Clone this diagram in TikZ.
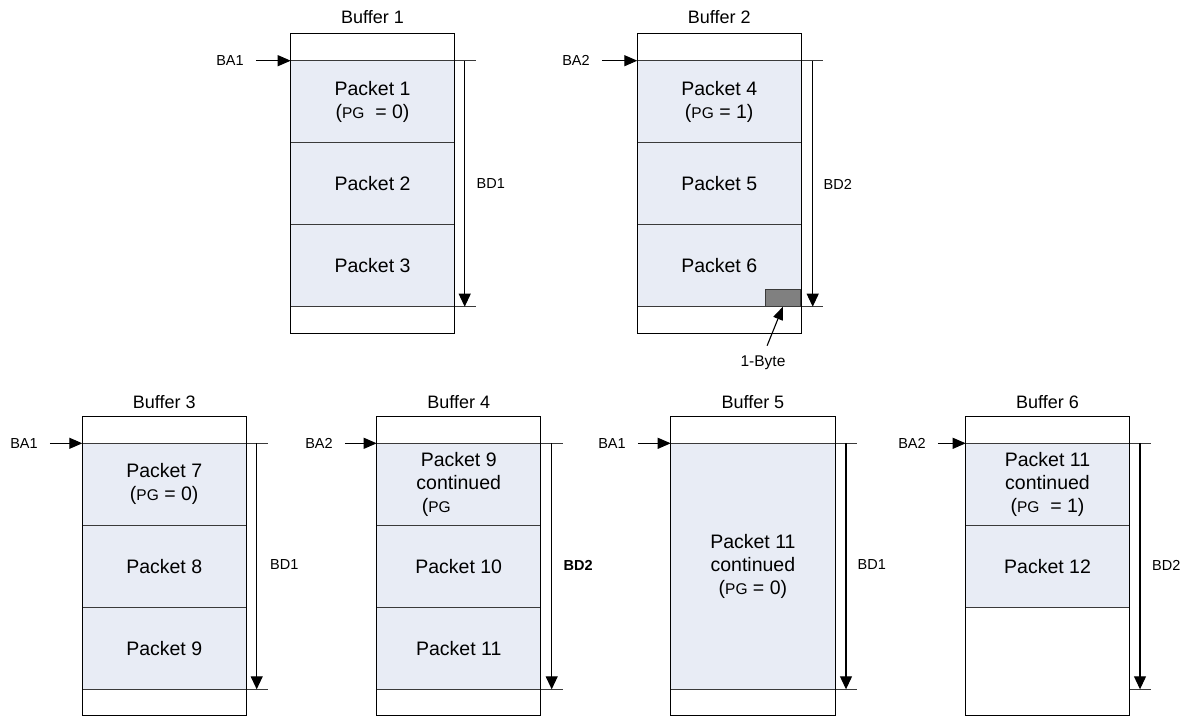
\documentclass[tikz,border=0pt]{standalone}
\usepackage{fontspec}
\setmainfont{Liberation Sans}
\usetikzlibrary{arrows.meta}
\definecolor{pk}{HTML}{E8ECF5}
\definecolor{dv}{HTML}{3A3A3A}
\definecolor{bytegray}{HTML}{808080}
\newcommand\mypg{{\fontsize{15.5}{15}\selectfont PG}}
\tikzset{
 pkt/.style={font=\fontsize{19.5}{23}\selectfont, align=center, inner sep=0pt},
 ttl/.style={font=\fontsize{18}{20}\selectfont, inner sep=0pt},
 lbl/.style={font=\fontsize{14.5}{16}\selectfont, inner sep=0pt},
 outerbox/.style={draw=black, line width=1pt},
 divl/.style={draw=dv, line width=1pt},
 baarrow/.style={line width=1.1pt, -{Triangle[length=13pt,width=11pt]}, shorten <=12pt},
 bdarrow/.style={line width=1.1pt, -{Triangle[length=13pt,width=12pt]}},
}
\begin{document}
\begin{tikzpicture}[x=1pt,y=-1pt]
\useasboundingbox (0,0) rectangle (1190,717);

% ---------------- Buffer 1 ----------------
\fill[pk] (290.7,60.7) rectangle (454.3,306.7);
\draw[divl] (290.7,142.7) -- (454.3,142.7);
\draw[divl] (290.7,224.7) -- (454.3,224.7);
\draw[divl] (290.7,60.7) -- (476,60.7);
\draw[divl] (290.7,306.7) -- (476,306.7);
\draw[outerbox] (290.7,33.3) rectangle (454.3,333);
\node[ttl] (t1) at (372.5,17) {Buffer 1};
\node[lbl] (ba1) at (230,60.7) {BA1};
\coordinate (b1in) at (290.7,60.7);
\draw[baarrow] (ba1.east) -- (b1in);
\coordinate (b1t) at (464.7,60.7);
\coordinate (b1b) at (464.7,306.7);
\draw[bdarrow] (b1t) -- (b1b);
\node[lbl, anchor=west] (bd1) at (476.5,184) {BD1};
\node[pkt] (p1) at (372.5,101.7) {Packet 1\\(\mypg\ \ = 0)};
\node[pkt] (p2) at (372.5,183.7) {Packet 2};
\node[pkt] (p3) at (372.5,265.7) {Packet 3};

% ---------------- Buffer 2 ----------------
\fill[pk] (637.3,60.7) rectangle (801,306.7);
\draw[divl] (637.3,142.7) -- (801,142.7);
\draw[divl] (637.3,224.7) -- (801,224.7);
\node[draw=dv, fill=bytegray, line width=1pt, minimum width=35.3pt, minimum height=16.7pt, inner sep=0pt, anchor=south east] (bytebox) at (801,306.7) {};
\draw[divl] (637.3,60.7) -- (823,60.7);
\draw[divl] (637.3,306.7) -- (823,306.7);
\draw[outerbox] (637.3,33.3) rectangle (801,333);
\node[ttl] (t2) at (719.2,17) {Buffer 2};
\node[lbl] (ba2) at (576,60.7) {BA2};
\coordinate (b2in) at (637.3,60.7);
\draw[baarrow] (ba2.east) -- (b2in);
\coordinate (b2t) at (812.7,60.7);
\coordinate (b2b) at (812.7,306.7);
\draw[bdarrow] (b2t) -- (b2b);
\node[lbl, anchor=west] (bd2) at (823.5,184) {BD2};
\node[pkt] (p4) at (719.2,101.7) {Packet 4\\(\mypg\ = 1)};
\node[pkt] (p5) at (719.2,183.7) {Packet 5};
\node[pkt] (p6) at (719.2,265.7) {Packet 6};
\node[font=\fontsize{15.5}{17}\selectfont, inner sep=0pt] (byte) at (763,363) {1-Byte};
\draw[line width=1.1pt, -{Triangle[length=13pt,width=10pt]}, shorten <=11pt] (byte.north) -- (bytebox.south);

% ---------------- Buffer 3 ----------------
\fill[pk] (82.3,443.3) rectangle (246,689.3);
\draw[divl] (82.3,525.3) -- (246,525.3);
\draw[divl] (82.3,607) -- (246,607);
\draw[divl] (82.3,443.3) -- (267.7,443.3);
\draw[divl] (82.3,689.3) -- (267.7,689.3);
\draw[outerbox] (82.3,416) rectangle (246,715);
\node[ttl] (t3) at (164.2,402) {Buffer 3};
\node[lbl] (ba3) at (24,443.3) {BA1};
\coordinate (b3in) at (82.3,443.3);
\draw[baarrow] (ba3.east) -- (b3in);
\coordinate (b3t) at (256.7,443.3);
\coordinate (b3b) at (256.7,689.3);
\draw[bdarrow] (b3t) -- (b3b);
\node[lbl, anchor=west] (bd3) at (270,565) {BD1};
\node[pkt] (p7) at (164.2,484.3) {Packet 7\\(\mypg\ = 0)};
\node[pkt] (p8) at (164.2,566.2) {Packet 8};
\node[pkt] (p9) at (164.2,648.2) {Packet 9};

% ---------------- Buffer 4 ----------------
\fill[pk] (376.7,443.3) rectangle (540.7,689.3);
\draw[divl] (376.7,525.3) -- (540.7,525.3);
\draw[divl] (376.7,607) -- (540.7,607);
\draw[divl] (376.7,443.3) -- (562.7,443.3);
\draw[divl] (376.7,689.3) -- (562.7,689.3);
\draw[outerbox] (376.7,416) rectangle (540.7,715);
\node[ttl] (t4) at (458.7,402) {Buffer 4};
\node[lbl] (ba4) at (319,443.3) {BA2};
\coordinate (b4in) at (376.7,443.3);
\draw[baarrow] (ba4.east) -- (b4in);
\coordinate (b4t) at (551.7,443.3);
\coordinate (b4b) at (551.7,689.3);
\draw[bdarrow] (b4t) -- (b4b);
\node[lbl, anchor=west, font=\fontsize{14.5}{16}\selectfont\bfseries] (bd4) at (563.5,565) {BD2};
\node[pkt] (p9c) at (458.7,484.3) {Packet 9\\continued\\(\mypg\phantom{\ \ = 1)}};
\node[pkt] (p10) at (458.7,566.2) {Packet 10};
\node[pkt] (p11) at (458.7,648.2) {Packet 11};

% ---------------- Buffer 5 ----------------
\fill[pk] (670.7,443.3) rectangle (835,689.3);
\draw[divl] (670.7,443.3) -- (856.7,443.3);
\draw[divl] (670.7,689.3) -- (856.7,689.3);
\draw[outerbox] (670.7,416) rectangle (835,715);
\node[ttl] (t5) at (752.9,402) {Buffer 5};
\node[lbl] (ba5) at (612,443.3) {BA1};
\coordinate (b5in) at (670.7,443.3);
\draw[baarrow] (ba5.east) -- (b5in);
\coordinate (b5t) at (846,443.3);
\coordinate (b5b) at (846,689.3);
\draw[bdarrow] (b5t) -- (b5b);
\node[lbl, anchor=west] (bd5) at (857.5,565) {BD1};
\node[pkt] (p11c) at (752.9,566.3) {Packet 11\\continued\\(\mypg\ = 0)};

% ---------------- Buffer 6 ----------------
\fill[pk] (965.7,443.3) rectangle (1129.3,607);
\draw[divl] (965.7,525.3) -- (1129.3,525.3);
\draw[divl] (965.7,607) -- (1129.3,607);
\draw[divl] (965.7,443.3) -- (1150.7,443.3);
\draw[divl] (1129.3,689.3) -- (1150.7,689.3);
\draw[outerbox] (965.7,416) rectangle (1129.3,715);
\node[ttl] (t6) at (1047.5,402) {Buffer 6};
\node[lbl] (ba6) at (912,443.3) {BA2};
\coordinate (b6in) at (965.7,443.3);
\draw[baarrow] (ba6.east) -- (b6in);
\coordinate (b6t) at (1140,443.3);
\coordinate (b6b) at (1140,689.3);
\draw[bdarrow] (b6t) -- (b6b);
\node[lbl, anchor=west] (bd6) at (1152,565) {BD2};
\node[pkt] (p11d) at (1047.5,484.3) {Packet 11\\continued\\(\mypg\ \ = 1)};
\node[pkt] (p12) at (1047.5,566.2) {Packet 12};
\end{tikzpicture}
\end{document}
